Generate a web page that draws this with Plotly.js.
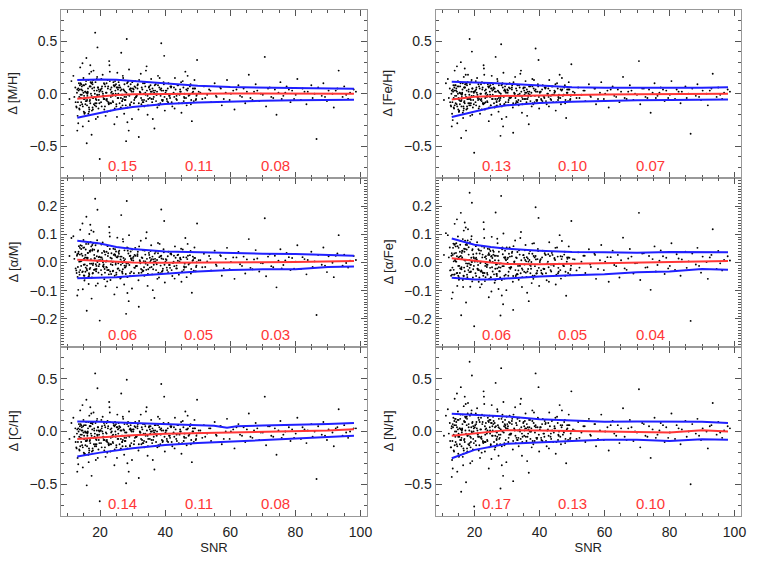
<!DOCTYPE html>
<html>
<head>
<meta charset="utf-8">
<script src="https://cdn.plot.ly/plotly-3.0.1.min.js"></script>
<style>html,body{margin:0;padding:0;background:#fff;}#plot{width:763px;height:562px;}</style>
</head>
<body>
<div id="plot"></div>
<script>
// ---- scatter data: SNR of each star (shared by all panels) ----
var snr = [
10.6,11.2,13.1,13.4,13.6,13.9,14.2,14.4,14.7,14.9,15.1,15.3,15.6,15.8,16.0,16.2,16.5,16.7,16.9,17.1,17.4,17.6,17.8,18.0,18.3,18.5,18.8,19.0,19.3,19.6,19.8,
11.8,13.3,13.8,14.1,14.6,15.0,15.5,15.9,16.4,16.8,17.3,17.7,18.2,18.7,19.2,19.7,
13.0,14.0,15.2,16.1,17.0,18.1,19.1,19.9,
20.2,20.5,20.8,21.1,21.4,21.7,22.0,22.3,22.6,22.9,23.2,23.5,23.8,24.1,24.4,24.7,25.0,25.3,25.6,25.9,26.2,26.5,26.8,27.1,27.4,27.7,28.0,28.3,28.6,28.9,29.2,29.5,29.8,
20.4,21.0,21.6,22.2,22.8,23.4,24.0,24.6,25.2,25.8,26.4,27.0,27.6,28.2,28.8,29.4,
21.3,23.0,24.8,26.6,28.4,29.9,
30.1,30.4,30.8,31.1,31.5,31.8,32.2,32.5,32.9,33.2,33.6,33.9,34.3,34.6,35.0,35.3,35.7,36.0,36.4,36.7,37.1,37.4,37.8,38.1,38.5,38.8,39.2,39.5,39.9,
30.6,31.3,32.0,32.7,33.4,34.1,34.8,35.5,36.2,36.9,37.6,38.3,39.0,39.7,
31.9,35.9,
40.2,40.6,41.0,41.4,41.8,42.2,42.6,43.0,43.4,43.8,44.2,44.6,45.0,45.4,45.8,46.2,46.6,47.0,47.4,47.8,48.2,48.6,49.0,49.4,49.8,
40.9,41.9,42.9,43.9,44.9,45.9,46.9,47.9,48.9,49.6,
50.3,51.4,51.9,52.9,53.5,54.1,55.2,55.8,56.9,57.4,58.6,59.0,59.8,60.9,61.3,62.5,63.0,64.1,64.6,65.7,66.2,67.3,67.8,68.9,69.4,70.6,71.0,72.1,72.6,73.7,74.2,75.4,75.8,76.9,77.3,78.5,79.0,80.1,80.6,81.7,82.2,83.4,83.8,84.9,85.3,86.5,87.0,88.1,88.6,89.7,90.2,91.4,91.8,92.9,93.3,94.5,95.0,96.2,96.8,97.9,
// core stars
12.1,12.4,12.7,12.9,13.2,13.5,13.7,14.0,14.3,14.5,14.8,15.0,15.2,15.4,15.7,15.9,16.1,16.3,16.6,16.8,17.0,17.2,17.5,17.7,17.9,18.2,18.4,18.6,18.9,19.1,19.4,19.5,19.8,
12.5,13.0,13.6,14.2,14.7,15.3,15.8,16.4,16.9,17.4,17.9,18.5,19.0,19.6,
13.3,13.9,14.4,15.1,15.6,16.2,16.7,17.3,17.8,18.4,18.9,19.3,
12.8,14.6,16.0,17.6,19.2,
13.8,15.5,17.1,18.7,
14.9,16.6,
20.1,20.3,20.6,20.9,21.2,21.5,21.8,22.1,22.4,22.7,23.0,23.3,23.6,23.9,24.2,24.5,24.8,25.1,25.4,25.7,26.0,26.3,26.6,26.9,27.2,27.5,27.8,28.1,28.4,28.7,29.0,29.3,29.6,
20.7,21.4,22.0,22.6,23.2,23.8,24.4,25.0,25.6,26.2,26.8,27.4,28.0,28.6,29.2,
20.5,21.9,23.4,24.9,26.4,27.9,29.5,
21.1,22.5,24.0,25.5,27.0,28.5,
20.9,23.1,25.3,27.5,29.7,
22.2,24.6,26.9,29.1,
30.2,30.5,30.9,31.2,31.6,31.9,32.3,32.6,33.0,33.3,33.7,34.0,34.4,34.7,35.1,35.4,35.8,36.1,36.5,36.8,37.2,37.5,37.9,38.2,38.6,38.9,39.3,39.6,
30.7,31.5,32.4,33.1,33.9,34.6,35.3,36.3,37.0,37.8,38.5,39.4,
31.0,32.8,34.2,35.6,37.3,38.8,
30.3,33.5,36.6,39.8,
40.1,40.5,40.8,41.2,41.6,42.0,42.4,42.8,43.2,43.6,44.0,44.4,44.8,45.2,45.6,46.0,46.4,46.8,47.2,47.6,48.0,48.4,48.8,49.2,49.7,
40.4,41.5,42.7,43.5,44.6,45.7,46.5,47.5,48.5,49.5,
50.8,52.3,53.9,55.6,57.1,58.0,60.2,61.9,63.6,65.1,66.8,68.3,70.0,71.6,73.2,74.8,76.3,78.0,79.6,82.8,85.9,89.1,92.4,95.6,98.6
];
var dMH = [
-0.05,0.12,-0.21,0.03,-0.14,0.25,-0.08,0.07,-0.31,0.15,-0.02,-0.18,0.09,0.34,-0.11,0.01,-0.26,0.19,-0.06,0.11,-0.39,0.05,-0.15,0.22,-0.03,0.58,-0.12,0.14,-0.22,0.04,-0.09,
0.17,-0.28,0.08,-0.04,0.29,-0.17,0.02,-0.47,0.13,-0.07,0.21,-0.13,0.06,-0.24,0.44,-0.01,
-0.35,0.10,-0.19,0.00,0.27,-0.10,0.16,-0.62,
0.04,-0.12,0.18,-0.05,0.09,-0.21,0.01,0.13,-0.08,0.27,-0.16,0.06,-0.02,0.11,-0.29,0.03,-0.10,0.20,-0.04,0.08,-0.14,0.39,-0.07,0.15,-0.19,0.02,-0.45,0.10,-0.01,0.23,-0.11,0.05,-0.24,
0.14,-0.03,0.07,-0.17,0.31,-0.09,0.00,0.12,-0.22,0.06,-0.13,0.17,-0.06,0.52,-0.35,0.09,
-0.15,0.21,-0.02,0.04,-0.27,0.11,
0.05,-0.09,0.12,-0.03,0.08,-0.15,0.02,0.19,-0.06,0.10,-0.12,0.01,0.26,-0.20,0.06,-0.04,0.14,-0.08,0.03,-0.33,0.09,-0.01,0.17,-0.11,0.04,0.48,-0.07,0.11,-0.16,
0.07,-0.02,0.13,-0.10,0.00,0.22,-0.05,0.08,-0.24,0.03,-0.13,0.15,-0.06,0.36,
-0.41,0.02,
0.03,-0.07,0.10,-0.02,0.06,-0.12,0.01,0.15,-0.05,0.08,-0.09,0.04,-0.18,0.12,-0.03,0.21,-0.11,0.05,-0.01,0.09,-0.26,0.02,0.13,-0.06,0.32,
-0.08,0.07,-0.14,0.00,0.11,-0.04,0.17,-0.10,0.05,-0.02,
0.02,-0.05,0.07,-0.01,0.04,-0.08,0.10,-0.03,0.06,-0.11,0.01,0.13,-0.06,0.03,-0.15,0.08,-0.02,0.05,-0.09,0.18,-0.04,0.02,0.09,-0.07,0.00,0.35,-0.12,0.06,-0.03,0.04,-0.20,0.11,-0.05,0.01,0.07,-0.08,0.03,-0.01,0.14,-0.06,0.05,-0.10,0.02,0.08,-0.04,-0.43,0.06,-0.02,0.10,-0.07,0.03,0.00,-0.13,0.05,0.22,-0.03,0.07,-0.05,0.01,0.04,
-0.03,0.06,-0.12,0.01,-0.08,0.10,-0.15,-0.01,0.04,-0.10,0.08,-0.05,-0.18,0.02,0.12,-0.07,-0.02,0.05,-0.13,0.07,-0.09,0.00,-0.16,0.09,-0.04,0.03,-0.11,0.11,-0.06,-0.01,0.06,-0.14,0.02,
-0.08,0.04,-0.03,0.09,-0.12,-0.05,0.01,-0.19,0.07,-0.02,0.13,-0.09,0.03,-0.06,
0.05,-0.11,-0.01,0.08,-0.07,0.02,-0.15,0.10,-0.04,0.00,-0.09,0.06,
-0.13,0.03,-0.06,0.11,-0.02,
0.04,-0.10,0.07,-0.05,
0.01,-0.17,
0.03,-0.08,0.07,-0.02,0.10,-0.12,0.01,-0.05,0.05,-0.10,0.12,-0.03,0.02,-0.07,0.08,-0.14,0.00,0.06,-0.04,0.11,-0.09,0.03,-0.01,-0.11,0.04,0.09,-0.06,0.01,-0.13,0.07,-0.02,0.05,-0.08,
0.02,-0.05,0.10,-0.09,0.04,-0.01,0.07,-0.12,0.00,0.06,-0.07,0.03,-0.03,0.12,-0.10,
0.05,-0.06,0.01,0.09,-0.04,-0.11,0.03,
-0.02,0.07,-0.08,0.04,-0.05,0.11,
0.00,-0.09,0.06,-0.03,0.02,
-0.07,0.08,-0.01,0.04,
0.02,-0.06,0.06,-0.02,0.09,-0.09,0.01,-0.04,0.04,-0.08,0.10,-0.01,0.03,-0.11,0.07,0.00,-0.05,0.05,-0.03,0.08,-0.07,0.02,-0.10,0.06,-0.02,0.03,-0.06,0.09,
-0.04,0.05,0.01,-0.08,0.07,-0.02,0.04,-0.05,0.00,0.08,-0.09,0.03,
-0.03,0.06,-0.07,0.02,-0.01,0.05,
0.04,-0.06,0.01,-0.03,
0.01,-0.05,0.05,-0.02,0.07,-0.08,0.00,-0.03,0.04,-0.06,0.08,-0.01,0.02,-0.09,0.06,0.00,-0.04,0.03,-0.02,0.07,-0.06,0.01,-0.07,0.05,-0.01,
0.03,-0.04,0.06,-0.02,0.02,-0.07,0.04,-0.01,0.05,-0.05,
0.01,-0.04,0.03,-0.02,0.05,-0.05,0.00,0.04,-0.03,0.02,-0.06,0.03,-0.01,0.05,-0.04,0.01,-0.02,0.04,-0.05,0.02,0.00,-0.03,0.03,-0.01,0.02
];
var dFeH = [
-0.06,0.10,-0.19,0.02,-0.13,0.22,-0.09,0.05,-0.28,0.12,-0.04,-0.16,0.07,0.30,-0.12,0.00,-0.23,0.16,-0.07,0.09,-0.35,0.03,-0.14,0.18,-0.05,0.52,-0.11,0.11,-0.20,0.02,-0.10,
0.14,-0.25,0.06,-0.05,0.26,-0.15,0.01,-0.42,0.10,-0.08,0.18,-0.12,0.04,-0.21,0.40,-0.02,
-0.31,0.08,-0.17,-0.01,0.24,-0.09,0.13,-0.56,
0.03,-0.11,0.15,-0.06,0.07,-0.19,0.00,0.11,-0.09,0.24,-0.15,0.04,-0.03,0.09,-0.26,0.02,-0.11,0.17,-0.05,0.06,-0.13,0.35,-0.08,0.12,-0.17,0.01,-0.40,0.08,-0.02,0.20,-0.10,0.03,-0.22,
0.12,-0.04,0.05,-0.15,0.27,-0.08,-0.01,0.10,-0.20,0.04,-0.12,0.14,-0.07,0.47,-0.31,0.07,
-0.14,0.18,-0.03,0.02,-0.24,0.09,
0.04,-0.08,0.10,-0.04,0.06,-0.13,0.01,0.16,-0.07,0.08,-0.11,0.00,0.22,-0.18,0.05,-0.05,0.12,-0.08,0.02,-0.29,0.07,-0.02,0.14,-0.10,0.03,0.43,-0.07,0.09,-0.14,
0.06,-0.03,0.11,-0.09,-0.01,0.19,-0.05,0.06,-0.21,0.02,-0.12,0.13,-0.06,0.32,
-0.37,0.01,
0.02,-0.06,0.08,-0.03,0.05,-0.10,0.00,0.13,-0.05,0.07,-0.08,0.03,-0.16,0.10,-0.03,0.18,-0.10,0.04,-0.01,0.08,-0.23,0.01,0.11,-0.06,0.28,
-0.07,0.06,-0.12,-0.01,0.09,-0.04,0.15,-0.09,0.04,-0.02,
0.02,-0.04,0.06,-0.01,0.03,-0.07,0.09,-0.03,0.05,-0.10,0.01,0.11,-0.05,0.03,-0.13,0.07,-0.02,0.04,-0.08,0.16,-0.04,0.02,0.08,-0.06,0.00,0.31,-0.10,0.05,-0.03,0.04,-0.18,0.10,-0.04,0.01,0.06,-0.07,0.03,-0.01,0.12,-0.05,0.04,-0.09,0.02,0.07,-0.04,-0.38,0.05,-0.02,0.09,-0.06,0.03,0.00,-0.11,0.05,0.19,-0.03,0.06,-0.05,0.01,0.04,
-0.04,0.05,-0.11,0.00,-0.08,0.08,-0.14,-0.02,0.03,-0.10,0.07,-0.05,-0.17,0.01,0.10,-0.07,-0.03,0.04,-0.12,0.06,-0.09,-0.01,-0.15,0.08,-0.05,0.02,-0.11,0.09,-0.06,-0.02,0.05,-0.13,0.01,
-0.08,0.03,-0.04,0.08,-0.12,-0.06,0.00,-0.18,0.06,-0.03,0.11,-0.09,0.02,-0.06,
0.04,-0.11,-0.02,0.07,-0.07,0.01,-0.14,0.09,-0.05,-0.01,-0.09,0.05,
-0.12,0.02,-0.06,0.10,-0.03,
0.03,-0.10,0.06,-0.05,
0.00,-0.16,
0.02,-0.08,0.06,-0.03,0.09,-0.12,0.00,-0.05,0.04,-0.10,0.10,-0.04,0.01,-0.07,0.07,-0.13,-0.01,0.05,-0.05,0.09,-0.09,0.02,-0.02,-0.11,0.03,0.08,-0.06,0.00,-0.12,0.06,-0.03,0.04,-0.08,
0.01,-0.05,0.09,-0.09,0.03,-0.02,0.06,-0.11,-0.01,0.05,-0.07,0.02,-0.04,0.10,-0.10,
0.04,-0.06,0.00,0.08,-0.05,-0.10,0.02,
-0.03,0.06,-0.08,0.03,-0.05,0.09,
-0.01,-0.09,0.05,-0.04,0.01,
-0.07,0.07,-0.02,0.03,
0.01,-0.06,0.05,-0.03,0.08,-0.09,0.00,-0.04,0.03,-0.08,0.08,-0.02,0.02,-0.10,0.06,-0.01,-0.05,0.04,-0.03,0.07,-0.07,0.01,-0.09,0.05,-0.02,0.02,-0.06,0.07,
-0.04,0.04,0.00,-0.08,0.06,-0.03,0.03,-0.05,-0.01,0.07,-0.08,0.02,
-0.03,0.05,-0.07,0.01,-0.02,0.04,
0.03,-0.06,0.00,-0.03,
0.01,-0.05,0.04,-0.02,0.06,-0.07,0.00,-0.03,0.03,-0.06,0.07,-0.01,0.02,-0.08,0.05,-0.01,-0.04,0.03,-0.02,0.06,-0.06,0.01,-0.07,0.04,-0.01,
0.02,-0.04,0.05,-0.02,0.01,-0.06,0.04,-0.01,0.04,-0.05,
0.01,-0.04,0.03,-0.02,0.05,-0.05,0.00,0.04,-0.03,0.02,-0.05,0.03,-0.01,0.05,-0.04,0.01,-0.02,0.04,-0.04,0.02,0.00,-0.03,0.03,-0.01,0.02
];
var dAM = [
0.023,0.087,-0.051,0.038,-0.034,0.116,-0.012,0.059,-0.095,0.080,0.013,-0.057,0.046,0.162,-0.028,0.034,-0.076,0.101,-0.004,0.073,-0.128,0.042,-0.037,0.109,0.015,0.226,-0.031,0.068,-0.074,0.019,-0.006,
0.093,-0.097,0.052,0.004,0.138,-0.046,0.027,-0.171,0.066,-0.023,0.114,-0.039,0.045,-0.082,0.187,0.008,
-0.117,0.061,-0.064,0.017,0.134,-0.026,0.079,-0.206,
0.018,-0.043,0.071,-0.016,0.037,-0.084,0.006,0.058,-0.027,0.106,-0.062,0.033,-0.009,0.049,-0.113,0.024,-0.036,0.088,-0.021,0.042,-0.057,0.168,-0.032,0.074,-0.078,0.012,-0.182,0.053,-0.003,0.097,-0.048,0.015,-0.092,
0.064,-0.013,0.028,-0.067,0.126,-0.041,0.003,0.047,-0.088,0.031,-0.054,0.083,-0.018,0.218,-0.137,0.039,
-0.059,0.092,-0.007,0.021,-0.108,0.046,
0.016,-0.038,0.052,-0.013,0.029,-0.063,0.008,0.077,-0.026,0.043,-0.047,0.004,0.107,-0.083,0.034,-0.018,0.061,-0.042,0.011,-0.126,0.038,-0.006,0.069,-0.053,0.022,0.188,-0.029,0.047,-0.071,
0.027,-0.012,0.057,-0.036,0.005,0.086,-0.024,0.041,-0.098,0.013,-0.058,0.066,-0.033,0.147,
-0.157,0.012,
0.012,-0.027,0.038,-0.009,0.033,-0.048,0.003,0.057,-0.021,0.026,-0.043,0.017,-0.068,0.046,-0.014,0.087,-0.052,0.024,-0.002,0.041,-0.107,0.009,0.053,-0.031,0.138,
-0.034,0.028,-0.057,0.006,0.049,-0.018,0.066,-0.039,0.016,-0.011,
0.008,-0.017,0.031,0.004,0.023,-0.028,0.042,-0.012,0.026,-0.047,0.013,0.052,-0.024,0.018,-0.058,0.037,-0.006,0.021,-0.039,0.083,-0.019,0.011,0.044,-0.032,-0.002,0.157,-0.049,0.029,-0.013,0.024,-0.088,0.047,-0.021,0.007,0.034,-0.027,0.016,0.003,0.061,-0.023,0.019,-0.042,0.009,0.038,-0.016,-0.186,0.027,-0.008,0.053,-0.034,0.022,-0.001,-0.052,0.032,0.097,-0.011,0.028,-0.018,0.006,0.023,
0.013,0.037,-0.028,0.024,-0.016,0.058,-0.043,0.004,0.031,-0.034,0.052,-0.008,-0.047,0.018,0.066,-0.023,0.009,0.034,-0.038,0.041,-0.019,0.012,-0.053,0.047,-0.003,0.027,-0.026,0.061,-0.012,0.006,0.043,-0.036,0.021,
-0.021,0.029,0.003,0.048,-0.032,-0.007,0.017,-0.051,0.038,-0.004,0.068,-0.024,0.022,-0.013,
0.032,-0.027,0.007,0.053,-0.018,0.016,-0.042,0.057,-0.009,0.014,-0.023,0.039,
-0.037,0.024,-0.011,0.062,0.002,
0.028,-0.033,0.044,-0.006,
0.011,-0.048,
0.008,-0.027,0.034,-0.013,0.041,-0.036,0.003,-0.018,0.023,-0.042,0.048,-0.006,0.014,-0.031,0.027,-0.047,-0.002,0.019,-0.022,0.037,-0.028,0.011,0.004,-0.039,0.016,0.043,-0.017,-0.004,-0.052,0.032,-0.009,0.024,-0.033,
0.012,-0.023,0.038,-0.026,0.017,0.002,0.029,-0.043,-0.003,0.021,-0.034,0.007,-0.012,0.051,-0.038,
0.018,-0.016,0.004,0.039,-0.008,-0.041,0.013,
-0.007,0.033,-0.029,0.022,-0.024,0.042,
0.001,-0.032,0.018,-0.011,0.009,
-0.027,0.028,-0.002,0.023,
0.007,-0.018,0.024,-0.012,0.038,-0.037,0.003,-0.023,0.016,-0.029,0.042,-0.004,0.013,-0.041,0.027,0.002,-0.016,0.021,-0.008,0.032,-0.027,0.009,-0.036,0.019,-0.011,0.014,-0.022,0.036,
-0.019,0.023,-0.003,-0.031,0.028,-0.009,0.017,-0.024,0.004,0.033,-0.038,0.012,
-0.013,0.018,-0.026,0.008,-0.002,0.024,
0.021,-0.017,0.003,-0.008,
0.003,-0.018,0.022,-0.009,0.031,-0.027,-0.002,-0.013,0.017,-0.021,0.028,0.004,0.011,-0.032,0.019,-0.004,-0.016,0.012,-0.007,0.026,-0.023,0.006,-0.029,0.016,0.001,
0.009,-0.019,0.024,-0.011,0.013,-0.026,0.018,-0.003,0.021,-0.016,
0.008,-0.016,0.013,-0.007,0.023,-0.021,0.002,0.018,-0.012,0.011,-0.024,0.014,-0.003,0.021,-0.017,0.006,-0.009,0.019,-0.022,0.012,0.004,-0.011,0.024,-0.002,0.009
];
var dAFe = [
0.027,0.104,-0.043,0.052,-0.026,0.137,0.004,0.068,-0.083,0.092,0.017,-0.058,0.063,0.176,-0.024,0.041,-0.087,0.113,0.008,0.077,-0.142,0.046,-0.052,0.118,-0.003,0.247,-0.034,0.082,-0.067,0.029,-0.012,
0.097,-0.106,0.063,0.012,0.153,-0.047,0.038,-0.187,0.083,-0.018,0.124,-0.043,0.054,-0.086,0.212,0.019,
-0.128,0.066,-0.061,0.034,0.142,-0.027,0.093,-0.226,
0.013,-0.048,0.072,-0.027,0.043,-0.088,0.003,0.057,-0.037,0.118,-0.066,0.022,-0.016,0.049,-0.123,0.008,-0.053,0.091,-0.032,0.038,-0.072,0.177,-0.041,0.068,-0.094,-0.004,-0.188,0.052,-0.013,0.103,-0.057,0.019,-0.098,
0.058,-0.023,0.032,-0.077,0.143,-0.052,-0.008,0.047,-0.103,0.028,-0.063,0.084,-0.031,0.236,-0.148,0.042,
-0.068,0.087,-0.019,0.024,-0.117,0.053,
0.012,-0.047,0.053,-0.018,0.034,-0.068,0.002,0.078,-0.043,0.037,-0.061,-0.009,0.108,-0.087,0.026,-0.033,0.062,-0.051,0.014,-0.137,0.041,-0.022,0.067,-0.058,0.018,0.196,-0.038,0.048,-0.083,
0.031,-0.017,0.058,-0.048,-0.012,0.087,-0.026,0.043,-0.107,0.009,-0.073,0.068,-0.039,0.158,
-0.168,0.004,
0.008,-0.037,0.042,-0.023,0.028,-0.063,0.003,0.072,-0.027,0.034,-0.048,0.016,-0.078,0.053,-0.019,0.097,-0.057,0.021,-0.012,0.038,-0.118,0.013,0.057,-0.042,0.147,
-0.041,0.027,-0.068,-0.007,0.052,-0.033,0.076,-0.047,0.018,-0.022,
0.012,-0.028,0.036,0.003,0.024,-0.037,0.047,-0.016,0.031,-0.058,0.008,0.062,-0.027,0.019,-0.068,0.042,-0.009,0.027,-0.053,0.088,-0.021,0.014,0.048,-0.039,-0.003,0.176,-0.062,0.033,-0.018,0.023,-0.097,0.057,-0.032,0.006,0.043,-0.041,0.017,-0.012,0.068,-0.026,0.029,-0.047,0.011,0.038,-0.019,-0.207,0.032,-0.007,0.052,-0.036,0.021,0.002,-0.058,0.027,0.118,-0.023,0.041,-0.028,0.009,0.022,
0.018,0.053,-0.027,0.024,-0.018,0.067,-0.043,0.008,0.034,-0.038,0.058,-0.012,-0.052,0.021,0.076,-0.023,0.013,0.042,-0.047,0.049,-0.031,0.007,-0.058,0.062,-0.004,0.028,-0.034,0.072,-0.008,0.003,0.047,-0.053,0.016,
-0.028,0.033,0.004,0.057,-0.037,-0.012,0.023,-0.062,0.038,-0.003,0.078,-0.019,0.017,-0.024,
0.027,-0.042,0.003,0.052,-0.021,0.018,-0.048,0.063,-0.013,0.009,-0.032,0.043,
-0.047,0.022,-0.017,0.068,0.002,
0.032,-0.037,0.048,-0.008,
0.012,-0.057,
0.003,-0.038,0.032,-0.022,0.047,-0.053,-0.002,-0.028,0.018,-0.047,0.052,-0.012,0.013,-0.037,0.027,-0.058,0.004,0.021,-0.017,0.043,-0.042,0.008,-0.007,-0.048,0.023,0.038,-0.031,-0.003,-0.062,0.029,-0.013,0.017,-0.043,
0.011,-0.027,0.042,-0.036,0.019,-0.008,0.033,-0.052,0.002,0.024,-0.041,0.007,-0.018,0.053,-0.047,
0.017,-0.032,-0.003,0.041,-0.022,-0.053,0.012,
-0.009,0.028,-0.043,0.016,-0.021,0.047,
0.003,-0.037,0.023,-0.017,0.008,
-0.032,0.027,-0.006,0.018,
-0.002,-0.033,0.021,-0.017,0.038,-0.048,0.004,-0.027,0.016,-0.042,0.043,-0.012,0.008,-0.052,0.027,-0.007,-0.036,0.019,-0.023,0.032,-0.038,0.002,-0.047,0.023,-0.013,0.011,-0.029,0.041,
-0.018,0.022,-0.004,-0.041,0.028,-0.021,0.017,-0.032,-0.008,0.031,-0.047,0.012,
-0.022,0.018,-0.038,0.009,-0.012,0.023,
0.017,-0.028,0.003,-0.019,
0.002,-0.028,0.018,-0.022,0.033,-0.038,-0.003,-0.017,0.023,-0.032,0.027,-0.012,0.009,-0.043,0.021,-0.004,-0.027,0.012,-0.008,0.028,-0.033,0.003,-0.037,0.017,-0.011,
0.012,-0.023,0.029,-0.007,0.013,-0.038,0.022,-0.013,0.018,-0.027,
0.011,-0.018,0.024,-0.007,0.027,-0.023,0.003,0.019,-0.013,0.008,-0.026,0.021,-0.002,0.032,-0.017,0.012,-0.009,0.022,-0.021,0.014,0.004,-0.012,0.018,-0.003,0.007
];
var dCH = [
-0.07,0.08,-0.25,0.00,-0.17,0.20,-0.10,0.04,-0.34,0.11,-0.04,-0.21,0.06,0.30,-0.14,-0.01,-0.29,0.15,-0.08,0.08,-0.42,0.02,-0.18,0.18,-0.05,0.55,-0.14,0.10,-0.25,0.01,-0.11,
0.13,-0.31,0.05,-0.06,0.25,-0.20,-0.01,-0.51,0.09,-0.09,0.17,-0.16,0.03,-0.27,0.41,-0.03,
-0.38,0.07,-0.22,-0.02,0.23,-0.12,0.12,-0.66,
0.01,-0.15,0.14,-0.08,0.06,-0.24,-0.02,0.10,-0.11,0.23,-0.19,0.03,-0.05,0.08,-0.32,0.00,-0.13,0.16,-0.07,0.05,-0.17,0.36,-0.10,0.12,-0.22,-0.01,-0.49,0.07,-0.04,0.19,-0.14,0.02,-0.27,
0.11,-0.06,0.04,-0.20,0.28,-0.12,-0.03,0.09,-0.25,0.03,-0.16,0.14,-0.09,0.49,-0.38,0.06,
-0.18,0.18,-0.05,0.01,-0.30,0.08,
0.02,-0.12,0.09,-0.05,0.05,-0.18,0.00,0.16,-0.08,0.07,-0.15,-0.02,0.23,-0.23,0.04,-0.07,0.11,-0.11,0.01,-0.36,0.06,-0.04,0.14,-0.14,0.02,0.45,-0.10,0.08,-0.19,
0.05,-0.04,0.10,-0.12,-0.02,0.19,-0.07,0.05,-0.27,0.01,-0.15,0.12,-0.08,0.33,
-0.44,0.00,
0.01,-0.09,0.08,-0.04,0.04,-0.14,-0.01,0.13,-0.07,0.06,-0.11,0.02,-0.21,0.10,-0.05,0.19,-0.13,0.03,-0.03,0.07,-0.29,0.00,0.11,-0.08,0.30,
-0.10,0.05,-0.16,-0.02,0.09,-0.06,0.15,-0.12,0.03,-0.04,
0.01,-0.06,0.06,-0.02,0.03,-0.09,0.09,-0.04,0.05,-0.12,0.00,0.12,-0.07,0.02,-0.16,0.07,-0.03,0.04,-0.10,0.17,-0.05,0.01,0.08,-0.08,-0.01,0.33,-0.13,0.05,-0.04,0.03,-0.22,0.10,-0.06,0.00,0.06,-0.09,0.02,-0.02,0.13,-0.07,0.04,-0.11,0.01,0.07,-0.05,-0.45,0.05,-0.03,0.09,-0.08,0.02,-0.01,-0.14,0.04,0.21,-0.04,0.06,-0.06,0.00,0.03,
-0.05,0.03,-0.15,-0.02,-0.10,0.07,-0.18,-0.03,0.01,-0.13,0.05,-0.07,-0.21,0.00,0.09,-0.09,-0.04,0.03,-0.16,0.05,-0.11,-0.02,-0.19,0.07,-0.06,0.01,-0.14,0.08,-0.08,-0.03,0.04,-0.17,0.00,
-0.10,0.02,-0.05,0.06,-0.15,-0.07,-0.01,-0.22,0.05,-0.04,0.09,-0.12,0.01,-0.08,
0.03,-0.14,-0.03,0.06,-0.09,0.00,-0.18,0.08,-0.06,-0.02,-0.12,0.04,
-0.16,0.01,-0.08,0.08,-0.04,
0.02,-0.13,0.05,-0.07,
-0.01,-0.20,
0.01,-0.11,0.05,-0.05,0.08,-0.15,-0.01,-0.08,0.03,-0.13,0.09,-0.06,0.00,-0.10,0.06,-0.17,-0.03,0.04,-0.07,0.08,-0.12,0.01,-0.04,-0.14,0.02,0.07,-0.09,-0.01,-0.16,0.05,-0.05,0.03,-0.11,
0.00,-0.08,0.08,-0.12,0.02,-0.04,0.05,-0.15,-0.02,0.04,-0.10,0.01,-0.06,0.09,-0.13,
0.03,-0.09,-0.01,0.07,-0.07,-0.14,0.01,
-0.05,0.05,-0.11,0.02,-0.08,0.08,
-0.02,-0.12,0.04,-0.06,0.00,
-0.10,0.06,-0.04,0.02,
0.00,-0.09,0.04,-0.05,0.07,-0.12,-0.01,-0.07,0.02,-0.11,0.07,-0.04,0.01,-0.14,0.05,-0.02,-0.08,0.03,-0.05,0.06,-0.10,0.00,-0.13,0.04,-0.03,0.01,-0.09,0.07,
-0.06,0.03,-0.01,-0.11,0.05,-0.04,0.02,-0.08,-0.02,0.06,-0.12,0.01,
-0.05,0.04,-0.10,0.00,-0.03,0.03,
0.02,-0.09,-0.01,-0.05,
-0.01,-0.07,0.03,-0.04,0.05,-0.10,-0.02,-0.05,0.02,-0.09,0.06,-0.03,0.00,-0.11,0.04,-0.02,-0.06,0.02,-0.04,0.05,-0.08,0.00,-0.10,0.03,-0.02,
0.01,-0.06,0.04,-0.03,0.00,-0.09,0.02,-0.02,0.03,-0.07,
0.01,-0.05,0.03,-0.03,0.05,-0.07,0.00,0.04,-0.04,0.02,-0.06,0.03,-0.01,0.05,-0.05,0.01,-0.03,0.04,-0.06,0.02,0.00,-0.04,0.03,-0.01,0.03
];
var dNH = [
-0.04,0.15,-0.27,0.04,-0.18,0.31,-0.10,0.09,-0.38,0.19,-0.02,-0.23,0.12,0.42,-0.14,0.02,-0.32,0.24,-0.07,0.14,-0.48,0.06,-0.19,0.27,-0.03,0.66,-0.15,0.17,-0.28,0.05,-0.11,
0.21,-0.35,0.10,-0.05,0.36,-0.21,0.03,-0.57,0.16,-0.08,0.26,-0.16,0.07,-0.30,0.53,0.00,
-0.43,0.12,-0.24,0.01,0.33,-0.12,0.20,-0.71,
0.06,-0.13,0.22,-0.05,0.11,-0.25,0.02,0.16,-0.09,0.33,-0.19,0.08,-0.02,0.13,-0.35,0.04,-0.12,0.25,-0.04,0.10,-0.17,0.46,-0.08,0.19,-0.23,0.03,-0.54,0.12,0.00,0.28,-0.13,0.06,-0.29,
0.17,-0.03,0.09,-0.20,0.38,-0.10,0.01,0.15,-0.26,0.07,-0.15,0.21,-0.07,0.60,-0.42,0.11,
-0.18,0.26,-0.02,0.05,-0.32,0.14,
0.07,-0.10,0.15,-0.03,0.10,-0.17,0.03,0.23,-0.06,0.12,-0.14,0.02,0.31,-0.23,0.08,-0.04,0.17,-0.09,0.04,-0.39,0.11,0.00,0.20,-0.12,0.05,0.55,-0.07,0.13,-0.19,
0.09,-0.02,0.16,-0.11,0.01,0.26,-0.05,0.10,-0.28,0.04,-0.15,0.18,-0.06,0.42,
-0.47,0.03,
0.04,-0.08,0.12,-0.02,0.07,-0.14,0.02,0.18,-0.05,0.10,-0.10,0.05,-0.21,0.14,-0.03,0.25,-0.12,0.06,0.00,0.11,-0.30,0.03,0.16,-0.07,0.38,
-0.09,0.08,-0.16,0.01,0.13,-0.04,0.20,-0.11,0.06,-0.02,
0.02,-0.07,0.09,-0.01,0.05,-0.10,0.12,-0.04,0.07,-0.14,0.01,0.16,-0.08,0.04,-0.18,0.10,-0.02,0.06,-0.11,0.22,-0.05,0.03,0.11,-0.09,0.00,0.40,-0.15,0.07,-0.04,0.05,-0.25,0.13,-0.06,0.01,0.08,-0.10,0.04,-0.01,0.17,-0.07,0.06,-0.12,0.02,0.10,-0.05,-0.50,0.07,-0.02,0.12,-0.08,0.03,0.00,-0.16,0.06,0.27,-0.03,0.09,-0.06,0.01,0.05,
-0.02,0.08,-0.15,0.03,-0.09,0.13,-0.19,0.00,0.06,-0.12,0.11,-0.05,-0.23,0.03,0.16,-0.08,-0.01,0.07,-0.16,0.10,-0.10,0.01,-0.20,0.12,-0.04,0.04,-0.13,0.15,-0.06,0.00,0.09,-0.17,0.03,
-0.09,0.05,-0.03,0.12,-0.14,-0.05,0.02,-0.24,0.09,-0.02,0.17,-0.11,0.04,-0.07,
0.07,-0.13,0.00,0.11,-0.08,0.03,-0.18,0.13,-0.04,0.01,-0.10,0.08,
-0.15,0.04,-0.06,0.14,-0.01,
0.06,-0.12,0.09,-0.05,
0.02,-0.21,
0.04,-0.09,0.09,-0.02,0.13,-0.13,0.02,-0.05,0.07,-0.11,0.15,-0.03,0.03,-0.08,0.10,-0.15,0.01,0.08,-0.04,0.14,-0.10,0.04,0.00,-0.12,0.06,0.12,-0.06,0.02,-0.14,0.09,-0.01,0.07,-0.08,
0.03,-0.05,0.13,-0.10,0.05,-0.01,0.09,-0.13,0.01,0.08,-0.07,0.04,-0.03,0.16,-0.11,
0.07,-0.06,0.02,0.11,-0.04,-0.12,0.04,
-0.02,0.09,-0.09,0.05,-0.05,0.14,
0.01,-0.10,0.08,-0.03,0.03,
-0.07,0.11,-0.01,0.05,
0.03,-0.06,0.08,-0.02,0.12,-0.09,0.02,-0.04,0.06,-0.08,0.13,0.00,0.04,-0.10,0.09,0.01,-0.05,0.07,-0.02,0.11,-0.07,0.03,-0.09,0.08,-0.01,0.04,-0.06,0.12,
-0.03,0.07,0.01,-0.08,0.10,-0.02,0.05,-0.05,0.00,0.10,-0.09,0.04,
-0.02,0.08,-0.07,0.03,0.00,0.06,
0.05,-0.06,0.02,-0.03,
0.02,-0.06,0.07,-0.02,0.10,-0.09,0.01,-0.04,0.05,-0.07,0.11,-0.01,0.03,-0.10,0.08,0.00,-0.05,0.04,-0.03,0.09,-0.07,0.02,-0.08,0.06,0.00,
0.04,-0.05,0.08,-0.02,0.03,-0.08,0.06,-0.01,0.06,-0.06,
0.01,-0.06,0.05,-0.03,0.07,-0.07,0.00,0.06,-0.04,0.03,-0.08,0.04,-0.01,0.08,-0.05,0.02,-0.03,0.06,-0.06,0.03,0.00,-0.04,0.05,-0.01,0.03
];

// ---- running median (red) and envelopes (blue) ----
var binX = [13,20,25,30,40,50,60,70,80,90,98];
var medMH = [-0.047,-0.025,-0.012,-0.005,0,0,0.002,0,-0.002,0,0];
var upMH  = [0.13,0.136,0.133,0.12,0.095,0.075,0.063,0.057,0.053,0.05,0.047];
var loMH  = [-0.228,-0.18,-0.15,-0.125,-0.097,-0.082,-0.072,-0.066,-0.061,-0.058,-0.056];
var medFeH = [-0.054,-0.028,-0.023,-0.02,-0.013,-0.01,-0.006,-0.004,-0.003,-0.001,0];
var upFeH  = [0.114,0.11,0.103,0.095,0.075,0.062,0.057,0.055,0.055,0.058,0.062];
var loFeH  = [-0.22,-0.165,-0.133,-0.11,-0.089,-0.076,-0.066,-0.062,-0.06,-0.057,-0.054];
var medAM = [0.01,0.005,0.001,0,-0.001,-0.001,0,0.001,0.002,0.004,0.005];
var upAM  = [0.077,0.067,0.055,0.048,0.039,0.036,0.032,0.031,0.03,0.027,0.024];
var loAM  = [-0.056,-0.054,-0.052,-0.048,-0.04,-0.032,-0.027,-0.024,-0.024,-0.016,-0.014];
var medAFe = [0.015,0.005,0,-0.005,-0.006,-0.004,-0.002,0,0.001,0.003,0.005];
var upAFe  = [0.085,0.063,0.055,0.049,0.042,0.037,0.036,0.035,0.037,0.037,0.036];
var loAFe  = [-0.054,-0.06,-0.06,-0.056,-0.05,-0.045,-0.042,-0.035,-0.032,-0.023,-0.026];
var binXC = [13,20,30,40,50,55,59,62,70,80,90,98];
var medCH = [-0.07,-0.054,-0.035,-0.022,-0.016,-0.013,-0.011,-0.01,-0.003,0.003,0.01,0.022];
var upCH  = [0.095,0.093,0.08,0.072,0.062,0.055,0.036,0.05,0.057,0.062,0.07,0.08];
var loCH  = [-0.237,-0.2,-0.158,-0.127,-0.11,-0.103,-0.097,-0.093,-0.08,-0.07,-0.057,-0.041];
var binXN = [13,20,30,40,50,60,70,80,90,98];
var medNH = [-0.041,-0.016,0.013,0.01,0.006,0.006,0,-0.009,0.013,0];
var upNH  = [0.168,0.158,0.142,0.117,0.101,0.092,0.095,0.092,0.092,0.08];
var loNH  = [-0.253,-0.174,-0.117,-0.101,-0.089,-0.079,-0.079,-0.089,-0.073,-0.079];

// ---- red scatter numbers and axis labels ----
var sigX = [26.8, 50.3, 74];
var sigMH = ['0.15','0.11','0.08'];
var sigFeH = ['0.13','0.10','0.07'];
var sigAM = ['0.06','0.05','0.03'];
var sigAFe = ['0.06','0.05','0.04'];
var sigCH = ['0.14','0.11','0.08'];
var sigNH = ['0.17','0.13','0.10'];
var yLabels = ['Δ [M/H]','Δ [Fe/H]','Δ [α/M]','Δ [α/Fe]','Δ [C/H]','Δ [N/H]'];

var panels = [
  {y:dMH,  bx:binX,  med:medMH,  up:upMH,  lo:loMH,  sig:sigMH,  sy:-0.68},
  {y:dFeH, bx:binX,  med:medFeH, up:upFeH, lo:loFeH, sig:sigFeH, sy:-0.68},
  {y:dAM,  bx:binX,  med:medAM,  up:upAM,  lo:loAM,  sig:sigAM,  sy:-0.256},
  {y:dAFe, bx:binX,  med:medAFe, up:upAFe, lo:loAFe, sig:sigAFe, sy:-0.256},
  {y:dCH,  bx:binXC, med:medCH,  up:upCH,  lo:loCH,  sig:sigCH,  sy:-0.68},
  {y:dNH,  bx:binXN, med:medNH,  up:upNH,  lo:loNH,  sig:sigNH,  sy:-0.68}
];

var W = 763, H = 562;
var colDom = [[61/W, 367/W], [435.5/W, 741/W]];
var rowDom = [[1-178/H, 1-9.5/H], [1-347/H, 1-178/H], [1-516/H, 1-347/H]];
var FONT = 'Liberation Sans, Arial, Helvetica, sans-serif';
var RED = '#ff3636', BLUE = '#2020ff', TXT = '#222';

var traces = [], annotations = [];
var layout = {
  width: W, height: H,
  margin: {l:0, r:0, t:0, b:0},
  paper_bgcolor: '#ffffff', plot_bgcolor: '#ffffff',
  showlegend: false,
  font: {family: FONT, size: 13, color: TXT}
};

panels.forEach(function(p, i) {
  var n = i + 1;
  var sfx = (n === 1 ? '' : String(n));
  var xa = 'x' + sfx, ya = 'y' + sfx;
  var col = i % 2, row = Math.floor(i / 2);
  traces.push({type:'scatter', mode:'markers', x:snr, y:p.y, xaxis:xa, yaxis:ya,
    marker:{color:'#000', size:1.9}, hoverinfo:'skip'});
  traces.push({type:'scatter', mode:'lines', x:p.bx, y:p.up, xaxis:xa, yaxis:ya,
    line:{color:BLUE, width:2}, hoverinfo:'skip'});
  traces.push({type:'scatter', mode:'lines', x:p.bx, y:p.lo, xaxis:xa, yaxis:ya,
    line:{color:BLUE, width:2}, hoverinfo:'skip'});
  traces.push({type:'scatter', mode:'lines', x:p.bx, y:p.med, xaxis:xa, yaxis:ya,
    line:{color:RED, width:2}, hoverinfo:'skip'});
  var mid = (row === 1);
  layout['xaxis' + sfx] = {
    domain: colDom[col], anchor: ya, range: [8, 102],
    tickmode: 'linear', tick0: 0, dtick: 20,
    ticks: 'inside', ticklen: 6, tickwidth: 1, tickcolor: '#555',
    minor: {dtick: 5, tick0: 0, ticks: 'inside', ticklen: 3, tickcolor: '#555', showgrid: false},
    showline: true, linecolor: '#999', linewidth: 1, mirror: 'allticks',
    showgrid: false, zeroline: false,
    showticklabels: row === 2, ticklabelstandoff: 3,
    tickfont: {family: FONT, size: 14, color: TXT},
    title: row === 2 ? {text: 'SNR', font: {family: FONT, size: 13, color: TXT}, standoff: 3} : {text: ''}
  };
  layout['yaxis' + sfx] = {
    domain: rowDom[row], anchor: xa,
    range: mid ? [-0.2995, 0.2995] : [-0.8, 0.8],
    tickmode: 'linear', tick0: 0, dtick: mid ? 0.1 : 0.5, tickformat: '.1f',
    ticks: 'inside', ticklen: 6, tickwidth: 1, tickcolor: '#555',
    minor: {dtick: mid ? 0.01 : 0.1, tick0: 0, ticks: 'inside', ticklen: 3, tickcolor: '#555', showgrid: false},
    showline: true, linecolor: '#999', linewidth: 1, mirror: 'allticks',
    showgrid: false, zeroline: false,
    tickfont: {family: FONT, size: 14, color: TXT}
  };
  p.sig.forEach(function(s, k) {
    annotations.push({xref: xa, yref: ya, x: sigX[k], y: p.sy, text: s, showarrow: false,
      font: {family: FONT, size: 15, color: RED}, xanchor: 'center', yanchor: 'middle'});
  });
  annotations.push({xref: 'paper', yref: 'paper',
    x: (col === 0 ? 13 : 388) / W, y: (rowDom[row][0] + rowDom[row][1]) / 2,
    text: yLabels[i], textangle: -90, showarrow: false,
    font: {family: FONT, size: 13, color: TXT}, xanchor: 'center', yanchor: 'middle'});
});
layout.annotations = annotations;

Plotly.newPlot('plot', traces, layout, {staticPlot: true, displayModeBar: false});
</script>
</body>
</html>
